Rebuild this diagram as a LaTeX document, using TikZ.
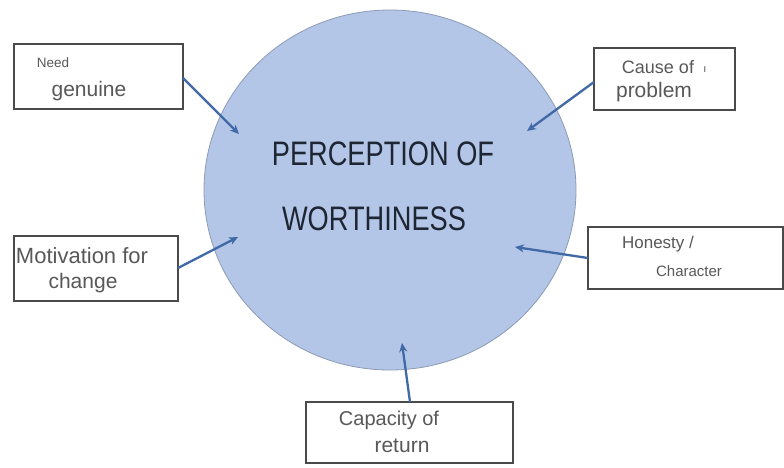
\documentclass[tikz,border=0pt]{standalone}
\usepackage{fontspec}
\setmainfont{Liberation Sans}
\usetikzlibrary{arrows.meta}
\definecolor{circfill}{HTML}{B4C6E7}
\definecolor{circline}{HTML}{8C9BB5}
\definecolor{arrowc}{HTML}{4169A8}
\definecolor{boxline}{HTML}{4A4A4A}
\definecolor{txtgray}{HTML}{585858}
\definecolor{titlec}{HTML}{1F2633}
\tikzset{
  boxn/.style={draw=boxline, line width=1.4pt, fill=white},
  lbl/.style={text=txtgray, inner sep=0pt, anchor=center},
  conn/.style={draw=arrowc, line width=2.3pt, -{Stealth[length=9pt,width=8pt]}},
  ttl/.style={text=titlec, inner sep=0pt, anchor=center}
}
\newcommand{\fsz}[1]{\fontsize{#1pt}{#1pt}\selectfont}
\begin{document}
\begin{tikzpicture}[x=1pt,y=-1pt]
\useasboundingbox[fill=white] (0,0) rectangle (784,467);
% central circle
\fill[circfill, draw=circline, line width=0.8pt] (390,190) ellipse [x radius=186, y radius=180];
\coordinate (cc) at (390,190);
\node[ttl] (t1) at (383,154) {\scalebox{0.8}[1]{\fsz{34}PERCEPTION OF}};
\node[ttl] (t2) at (374,219) {\scalebox{0.8}[1]{\fsz{34}WORTHINESS}};
% boxes
\draw[boxn] (14,44) rectangle (183,109);
\coordinate (b1) at (183,78);
\node[lbl] (n1a) at (53,63) {\fsz{13.5}Need};
\node[lbl] (n1b) at (89,91) {\fsz{21}genuine};
\draw[boxn] (594,48) rectangle (735,110);
\coordinate (b2) at (594,82);
\node[lbl] (n2a) at (658,67) {\fsz{18}Cause of};
\node[lbl] (n2c) at (705,70) {\fsz{11}ı};
\node[lbl] (n2b) at (654,92) {\fsz{21}problem};
\draw[boxn] (14,236) rectangle (178,301);
\coordinate (b3) at (178,268);
\node[lbl] (n3a) at (82,256) {\fsz{22}Motivation for};
\node[lbl] (n3b) at (83,283) {\fsz{21}change};
\draw[boxn] (588,227) rectangle (783,289);
\coordinate (b4) at (588,258);
\node[lbl] (n4a) at (658,244) {\fsz{17}Honesty /};
\node[lbl] (n4b) at (689,271) {\fsz{15}Character};
\draw[boxn] (306,402) rectangle (513,463);
\coordinate (b5) at (410,402);
\node[lbl] (n5a) at (389,420) {\fsz{20}Capacity of};
\node[lbl] (n5b) at (402,446) {\fsz{21}return};
% arrow targets
\coordinate (e1) at (239,134);
\coordinate (e2) at (527,131);
\coordinate (e3) at (238,237);
\coordinate (e4) at (515,247);
\coordinate (e5) at (402,343);
\draw[conn] (b1) -- (e1);
\draw[conn] (b2) -- (e2);
\draw[conn] (b3) -- (e3);
\draw[conn] (b4) -- (e4);
\draw[conn] (b5) -- (e5);
\end{tikzpicture}
\end{document}
